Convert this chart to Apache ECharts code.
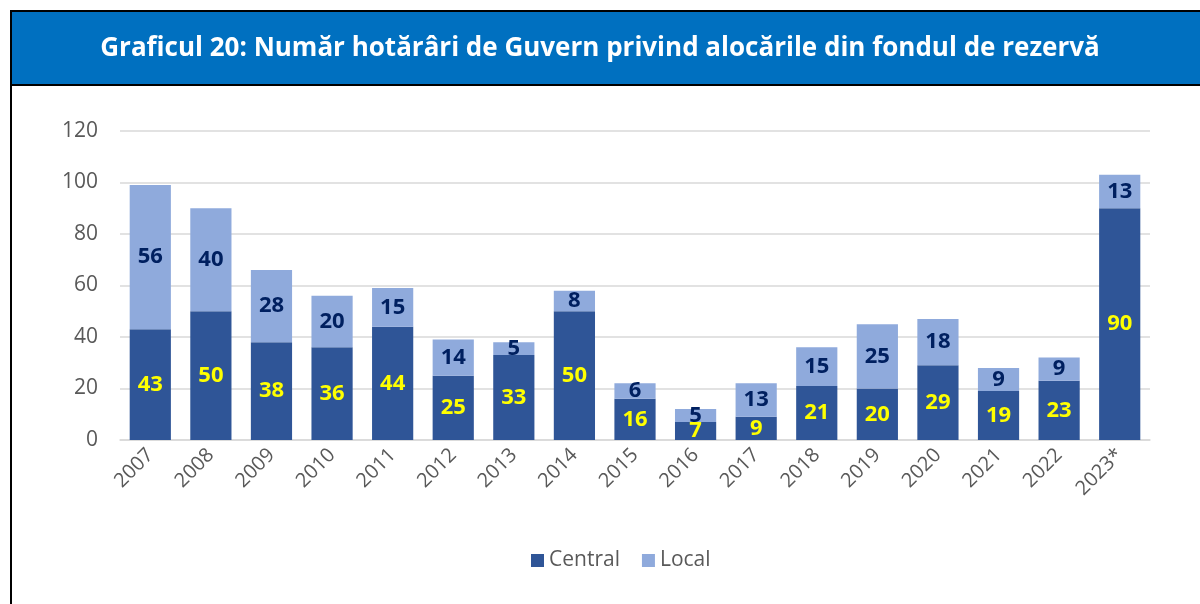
<!DOCTYPE html>
<html>
<head>
<meta charset="utf-8">
<script src="https://cdn.jsdelivr.net/npm/echarts@6/dist/echarts.min.js"></script>
<style>
  html, body { margin: 0; padding: 0; background: #fff; }
  #chart { width: 1200px; height: 604px; }
</style>
</head>
<body>
<div id="chart"></div>
<script>
// date grafic
var years = ['2007', '2008', '2009', '2010', '2011', '2012', '2013', '2014', '2015',
  '2016', '2017', '2018', '2019', '2020', '2021', '2022', '2023*'];
var central = [43, 50, 38, 36, 44, 25, 33, 50, 16, 7, 9, 21, 20, 29, 19, 23, 90];
var local = [56, 40, 28, 20, 15, 14, 5, 8, 6, 5, 13, 15, 25, 18, 9, 9, 13];
var titleText = 'Graficul 20: Număr hotărâri de Guvern privind alocările din fondul de rezervă';

var chart = echarts.init(document.getElementById('chart'));
var fontFam = '"Open Sans", "Noto Sans", sans-serif';

chart.setOption({
  backgroundColor: '#fff',
  animation: false,
  graphic: [
    { type: 'rect', shape: { x: 11, y: 11, width: 1195, height: 74 },
      style: { fill: '#0070C0', stroke: '#000', lineWidth: 2 } },
    { type: 'line', shape: { x1: 11, y1: 85, x2: 11, y2: 610 },
      style: { stroke: '#000', lineWidth: 2 } },
    { type: 'text', left: 'center', top: 36,
      style: { text: titleText, fill: '#fff', font: 'bold 26px ' + fontFam } }
  ],
  legend: {
    bottom: 28,
    left: 526,
    itemWidth: 13,
    itemHeight: 13,
    itemGap: 22,
    icon: 'rect',
    textStyle: { fontSize: 21, color: '#595959', fontFamily: fontFam },
    data: ['Central', 'Local']
  },
  grid: { left: 120, right: 50, top: 131, bottom: 164 },
  xAxis: {
    type: 'category',
    data: years,
    axisTick: { show: false },
    axisLine: { lineStyle: { color: '#d9d9d9', width: 1.5 } },
    axisLabel: { rotate: 45, fontSize: 20, color: '#595959', fontFamily: fontFam, margin: 12 }
  },
  yAxis: {
    type: 'value',
    min: 0,
    max: 120,
    interval: 20,
    axisLine: { show: false },
    axisTick: { show: false },
    splitLine: { lineStyle: { color: '#d9d9d9', width: 1.5 } },
    axisLabel: { fontSize: 21, color: '#595959', fontFamily: fontFam, margin: 22 }
  },
  series: [
    {
      name: 'Central',
      type: 'bar',
      stack: 'total',
      barWidth: '68%',
      data: central,
      itemStyle: { color: '#2F5597' },
      label: { show: true, position: 'inside', color: '#FFFF00', fontWeight: 'bold',
        fontSize: 22, fontFamily: fontFam }
    },
    {
      name: 'Local',
      type: 'bar',
      stack: 'total',
      data: local,
      itemStyle: { color: '#8FAADC' },
      label: { show: true, position: 'inside', color: '#002060', fontWeight: 'bold',
        fontSize: 22, fontFamily: fontFam }
    }
  ]
});
</script>
</body>
</html>
